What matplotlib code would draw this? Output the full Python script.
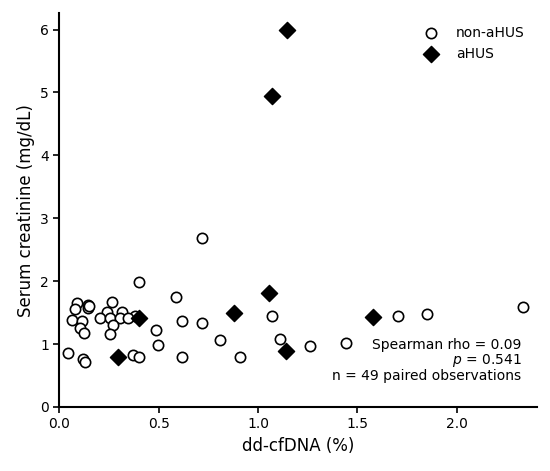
import numpy as np
import matplotlib.pyplot as plt

# non-aHUS observations
non_x = [0.399, 0.586, 0.087, 0.146, 0.146, 0.079, 0.264, 0.238, 0.314, 0.381,
         0.062, 0.113, 0.205, 0.255, 0.306, 0.347, 0.272, 0.104, 0.124, 0.255,
         0.619, 0.720, 0.488, 0.807, 0.498, 0.045, 0.119, 0.129, 0.369, 0.401,
         0.619, 0.911, 0.720, 1.069, 1.111, 1.260, 1.441, 1.705, 1.849, 2.335,
         0.150]
non_y = [1.99, 1.74, 1.65, 1.62, 1.57, 1.56, 1.67, 1.51, 1.51, 1.45,
         1.38, 1.36, 1.41, 1.41, 1.41, 1.42, 1.30, 1.26, 1.17, 1.16,
         1.36, 1.34, 1.23, 1.06, 0.98, 0.85, 0.77, 0.71, 0.82, 0.80,
         0.79, 0.79, 2.68, 1.44, 1.08, 0.97, 1.01, 1.44, 1.47, 1.585,
         1.60]

# aHUS observations
ahus_x = [1.145, 1.070, 1.055, 0.879, 1.580, 0.403, 0.297, 1.141]
ahus_y = [5.99, 4.94, 1.81, 1.49, 1.43, 1.42, 0.80, 0.89]

rho = 0.09
pval = 0.541
n_obs = 49

fig = plt.figure(figsize=(5.5, 4.71), dpi=100)
ax = fig.add_axes([0.108, 0.136, 0.869, 0.836])

ax.scatter(non_x, non_y, s=55, facecolors="white", edgecolors="black",
           linewidths=1.2, label="non-aHUS", zorder=3)
ax.scatter(ahus_x, ahus_y, s=68, marker="D", color="black", label="aHUS", zorder=4)

ax.set_xlim(0, 2.405)
ax.set_ylim(0, 6.26)
ax.set_xticks([0.0, 0.5, 1.0, 1.5, 2.0])
ax.set_yticks(range(7))
ax.tick_params(labelsize=10, width=1.2, length=4)
for side in ["top", "right"]:
    ax.spines[side].set_visible(False)
for side in ["left", "bottom"]:
    ax.spines[side].set_linewidth(1.5)

ax.set_xlabel("dd-cfDNA (%)", fontsize=12)
ax.set_ylabel("Serum creatinine (mg/dL)", fontsize=12)

ax.legend(loc="upper right", frameon=False, fontsize=10)

ax.text(0.967, 0.06,
        f"Spearman rho = {rho:.2f}\n$p$ = {pval:.3f}\nn = {n_obs} paired observations",
        transform=ax.transAxes, ha="right", va="bottom", fontsize=10,
        linespacing=1.0)

fig.savefig("out.png", dpi=100)
